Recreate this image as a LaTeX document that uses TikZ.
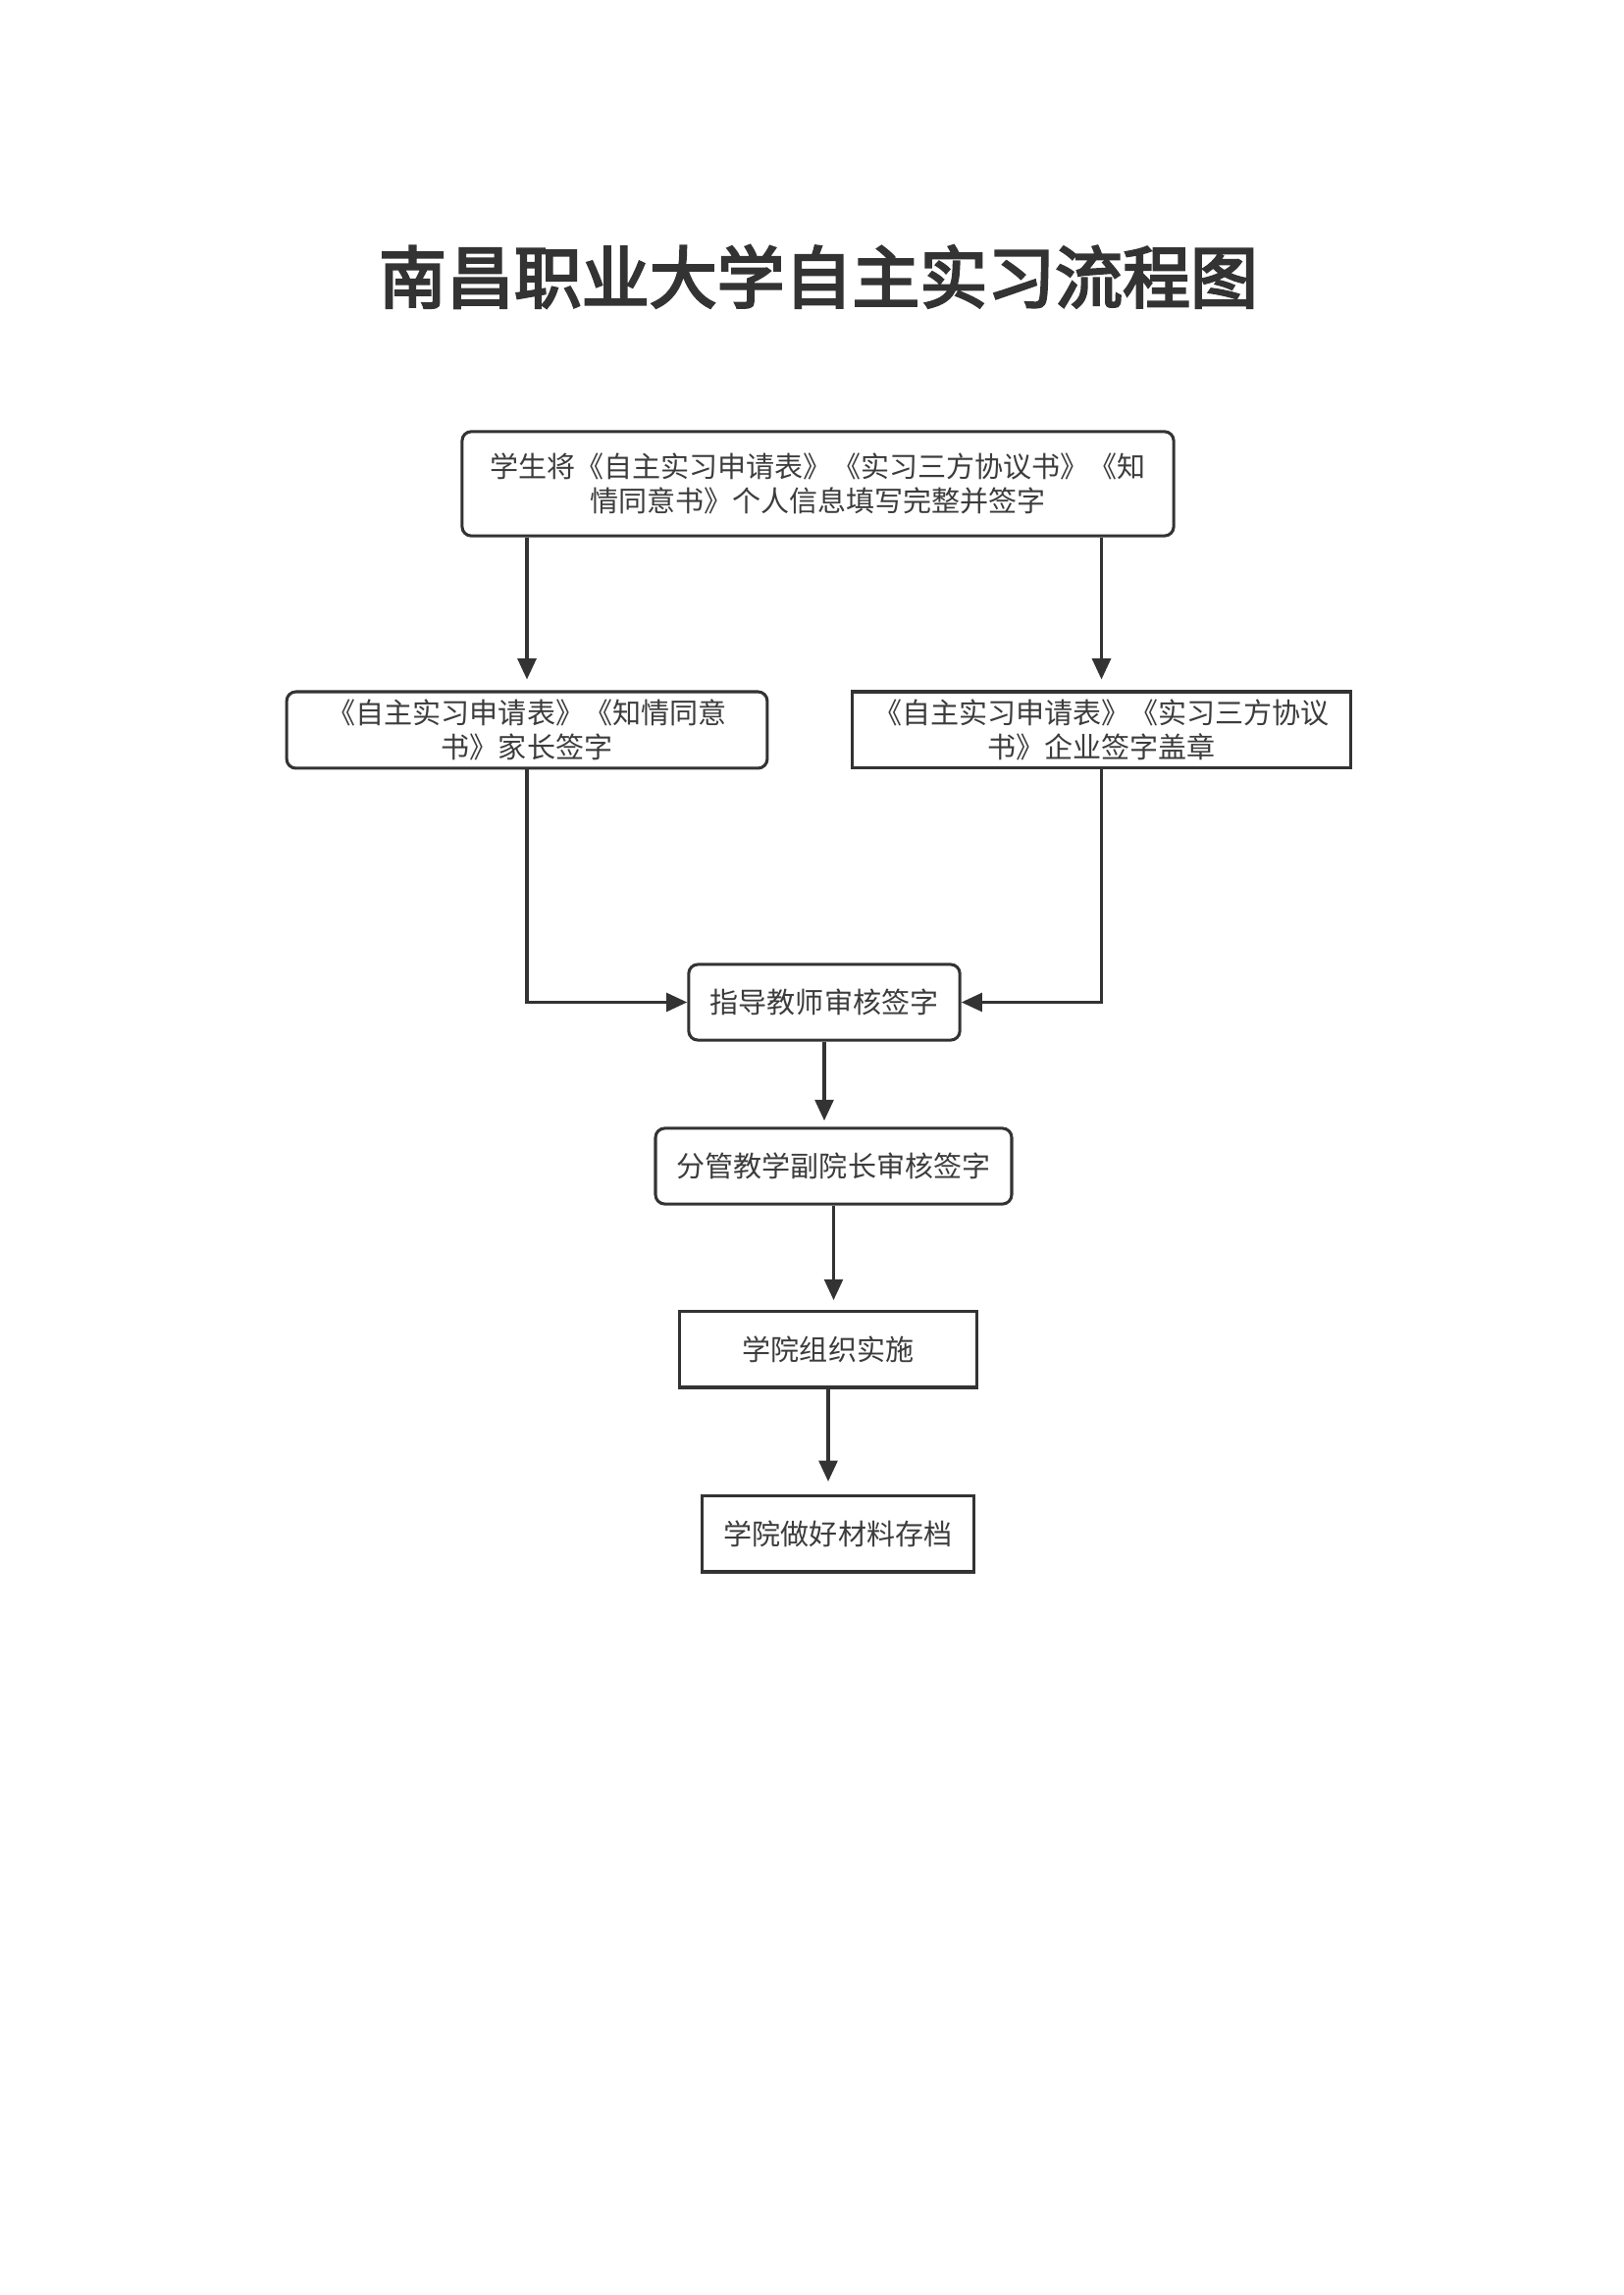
\documentclass[tikz,border=0pt]{standalone}
\usepackage{fontspec}
\setmainfont{Noto Sans CJK SC}
\newfontfamily\cjktitle{Noto Sans CJK SC}[FakeBold=3.5]
\usetikzlibrary{arrows.meta}
\definecolor{ink}{HTML}{333333}
\definecolor{txt}{HTML}{3C3C3C}
\begin{document}
\begin{tikzpicture}[x=0.127mm,y=-0.127mm,
  box/.style={draw=ink,line width=1.1pt,rounded corners=1.2mm,inner sep=0pt,align=center,
    font=\fontsize{10.5pt}{12.8pt}\selectfont,text=txt},
  sqbox/.style={box,rounded corners=0pt},
  conn/.style={draw=ink,line width=1.1pt,-{Triangle[length=2.7mm,width=2.4mm]}}]
\useasboundingbox (0,0) rectangle (1654,2339);
\fill[white] (0,0) rectangle (1654,2339);
\node[font=\cjktitle\fontsize{24.9pt}{28pt}\selectfont,text=ink] (title) at (834,282) {南昌职业大学自主实习流程图};
\node[box,minimum width=92.1mm,minimum height=13.5mm] (b1) at (833.5,493)
  {学生将《自主实习申请表》《实习三方协议书》《知\\情同意书》个人信息填写完整并签字};
\node[box,minimum width=62.2mm,minimum height=9.9mm] (b2) at (537,744)
  {《自主实习申请表》《知情同意\\书》家长签字};
\node[sqbox,minimum width=64.6mm,minimum height=9.9mm] (b3) at (1122.5,744)
  {《自主实习申请表》《实习三方协议\\书》企业签字盖章};
\node[box,minimum width=35.1mm,minimum height=9.8mm] (b4) at (840,1021.5) {指导教师审核签字};
\node[box,minimum width=46.1mm,minimum height=9.8mm] (b5) at (849.5,1188.5) {分管教学副院长审核签字};
\node[sqbox,minimum width=38.4mm,minimum height=9.9mm] (b6) at (844,1375) {学院组织实施};
\node[sqbox,minimum width=35.1mm,minimum height=9.9mm] (b7) at (854,1563) {学院做好材料存档};
\draw[conn,shorten >=1.4mm] (b1.south -| b2.north) -- (b2.north);
\draw[conn,shorten >=1.4mm] (b1.south -| b3.north) -- (b3.north);
\draw[conn] (b2.south) |- (b4.west);
\draw[conn] (b3.south) |- (b4.east);
\draw[conn,shorten >=0.8mm] (b4.south) -- (b4.south |- b5.north);
\draw[conn,shorten >=1.2mm] (b5.south) -- (b5.south |- b6.north);
\draw[conn,shorten >=1.6mm] (b6.south) -- (b6.south |- b7.north);
\end{tikzpicture}
\end{document}
